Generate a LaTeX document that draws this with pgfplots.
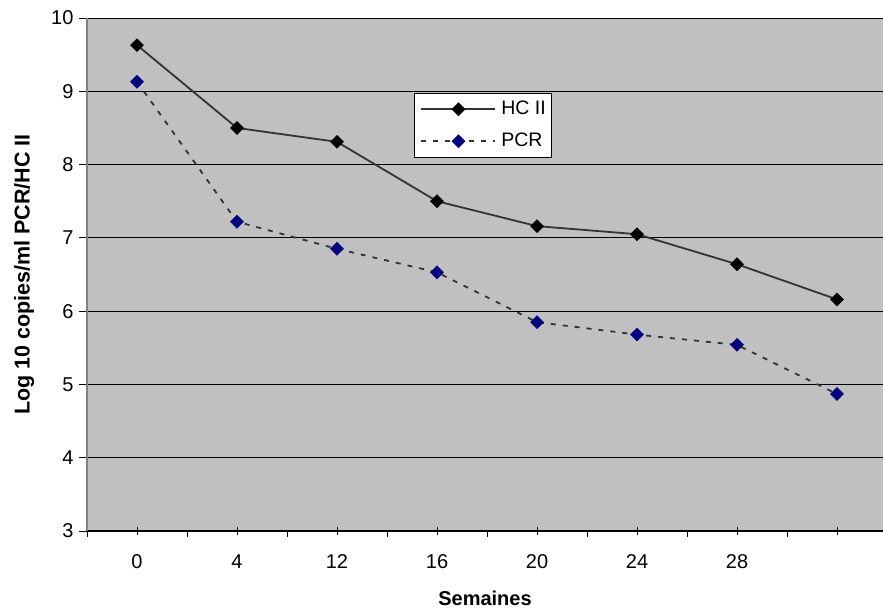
\documentclass[border=0pt]{standalone}
\usepackage{fontspec}
\setmainfont{Liberation Sans}
\usepackage{pgfplots}
\pgfplotsset{compat=1.18}
\definecolor{plotbg}{HTML}{C0C0C0}
\definecolor{navy}{HTML}{000080}
\definecolor{linegray}{HTML}{333333}
\begin{document}
\begin{tikzpicture}
\begin{axis}[
  scale only axis, width=796pt, height=513pt,
  xmin=-0.5, xmax=7.46, ymin=3, ymax=10,
  axis x line*=bottom, axis y line*=left,
  x axis line style={-, black, line width=1.2pt},
  y axis line style={-, gray, line width=1.5pt},
  axis background/.style={fill=plotbg},
  /pgf/number format/assume math mode=true,
  xtick={0,...,7}, xticklabels={0,4,12,16,20,24,28,{}},
  extra x ticks={-0.5,0.5,1.5,2.5,3.5,4.5,5.5,6.5},
  extra x tick labels={},
  extra x tick style={grid=none, xtick align=outside, major tick length=6pt},
  xtick align=center, ytick align=outside,
  major tick length=8pt,
  tick style={black, line width=0.8pt},
  ytick={3,...,10},
  ymajorgrids, major grid style={black, line width=0.8pt},
  tick label style={font=\fontsize{20}{24}\selectfont},
  xticklabel style={yshift=-16pt},
  yticklabel style={xshift=-2pt},
  xlabel={Semaines},
  ylabel={Log 10 copies/ml PCR/HC II},
  xlabel style={font=\bfseries\fontsize{20}{24}\selectfont, at={([yshift=-67pt]rel axis cs:0.5,0)}, anchor=center},
  ylabel style={font=\bfseries\fontsize{21.5}{25}\selectfont, at={([xshift=-63pt]rel axis cs:0,0.5)}, anchor=center},
  legend style={at={(rel axis cs:0.411,0.854)}, anchor=north west, fill=white, draw=black, line width=0.8pt,
    font=\fontsize{19.5}{23}\selectfont, row sep=14pt, column sep=5pt, inner xsep=6pt, inner ysep=7pt,
    nodes={inner sep=0pt, text height=14pt, text depth=4pt, anchor=west}},
  legend cell align=left,
  legend image code/.code={\draw[mark repeat=2,mark phase=2] plot coordinates {(0pt,0pt) (37pt,0pt) (74pt,0pt)};},
]
\addplot[linegray, line width=1.8pt, mark=square*, mark size=4.6pt,
  mark options={rotate=45, solid, fill=black, draw=black, line width=0.5pt}]
  coordinates {(0,9.63) (1,8.50) (2,8.31) (3,7.50) (4,7.16) (5,7.05) (6,6.64) (7,6.16)};
\addlegendentry{HC II}
\addplot[linegray, line width=1.8pt, dash pattern=on 5pt off 7pt, mark=square*, mark size=4.6pt,
  mark options={rotate=45, solid, fill=navy, draw=navy, line width=0.5pt}]
  coordinates {(0,9.13) (1,7.22) (2,6.85) (3,6.53) (4,5.85) (5,5.68) (6,5.54) (7,4.87)};
\addlegendentry{PCR}
\end{axis}
\pgfresetboundingbox
\useasboundingbox (-87pt,-83pt) rectangle (796pt,531pt);
\end{tikzpicture}
\end{document}
